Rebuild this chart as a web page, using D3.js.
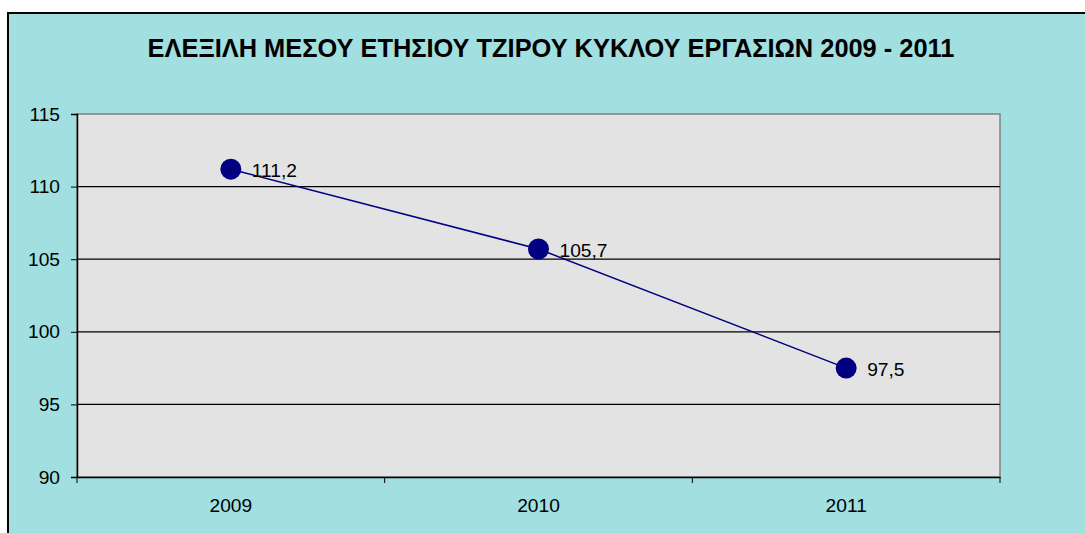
<!DOCTYPE html>
<html><head><meta charset="utf-8">
<script src="https://cdn.jsdelivr.net/npm/d3@7"></script>
<style>body{margin:0;background:#fff;}svg{display:block;font-family:"Liberation Sans",Arial,sans-serif;}</style>
</head><body>
<script>
const title = "ΕΛΕΞΙΛΗ ΜΕΣΟΥ ΕΤΗΣΙΟΥ ΤΖΙΡΟΥ ΚΥΚΛΟΥ ΕΡΓΑΣΙΩΝ 2009 - 2011";
const years = ["2009", "2010", "2011"];
const values = [111.2, 105.7, 97.5];
const labels = ["111,2", "105,7", "97,5"];
const yTicks = [90, 95, 100, 105, 110, 115];

const W = 1085, H = 533;
const FS = 19.2;
const svg = d3.select("body").append("svg").attr("width", W).attr("height", H);
svg.append("rect").attr("x", 8).attr("y", 13).attr("width", W).attr("height", H)
  .attr("fill", "#a1dfe0").attr("stroke", "#000").attr("stroke-width", 2);

const L = 77, R = 1000, T = 114, B = 477;
const x = d3.scaleBand().domain(years).range([L, R]);
const y = d3.scaleLinear().domain([90, 115]).range([B, T]);

svg.append("rect").attr("x", L).attr("y", T).attr("width", R - L).attr("height", B - T)
  .attr("fill", "#e3e3e3").attr("stroke", "#808080").attr("stroke-width", 1.5);

svg.append("g").selectAll("line").data(yTicks.filter(d => d > 90 && d < 115)).join("line")
  .attr("x1", L).attr("x2", R).attr("y1", d => y(d)).attr("y2", d => y(d))
  .attr("stroke", "#000").attr("stroke-width", 1.3);

const ya = svg.append("g").attr("transform", `translate(${L},0)`)
  .call(d3.axisLeft(y).tickValues(yTicks).tickSize(6).tickPadding(11).tickFormat(d3.format("d")));
ya.attr("font-size", FS).attr("font-family", "Liberation Sans, Arial, sans-serif");
ya.select(".domain").attr("stroke", "#000").attr("stroke-width", 1.5);
ya.selectAll("line").attr("stroke", "#000");
ya.selectAll("text").attr("fill", "#000");

const xa = svg.append("g").attr("transform", `translate(0,${B})`)
  .call(d3.axisBottom(x).tickSize(0).tickPadding(21));
xa.attr("font-size", FS).attr("font-family", "Liberation Sans, Arial, sans-serif");
xa.select(".domain").attr("stroke", "#000").attr("stroke-width", 1.5);
xa.selectAll("text").attr("fill", "#000");
const bounds = [...years.map(d => x(d)), R];
svg.append("g").selectAll("line").data(bounds).join("line")
  .attr("x1", d => d).attr("x2", d => d).attr("y1", B).attr("y2", B + 6)
  .attr("stroke", "#000").attr("stroke-width", 1);

const cx = d => x(d) + x.bandwidth() / 2;
const line = d3.line().x((d, i) => cx(years[i])).y(d => y(d));
svg.append("path").datum(values).attr("d", line).attr("fill", "none")
  .attr("stroke", "#000080").attr("stroke-width", 1.5);
svg.append("g").selectAll("circle").data(values).join("circle")
  .attr("cx", (d, i) => cx(years[i])).attr("cy", d => y(d)).attr("r", 10.5)
  .attr("fill", "#000080");
svg.append("g").selectAll("text").data(values).join("text")
  .attr("x", (d, i) => cx(years[i]) + 21).attr("y", d => y(d) + 7.5)
  .attr("font-size", FS).attr("fill", "#000").text((d, i) => labels[i]);

svg.append("text").attr("x", 551).attr("y", 57).attr("text-anchor", "middle")
  .attr("font-size", 25.4).attr("font-weight", "bold").text(title);
</script>
</body></html>
